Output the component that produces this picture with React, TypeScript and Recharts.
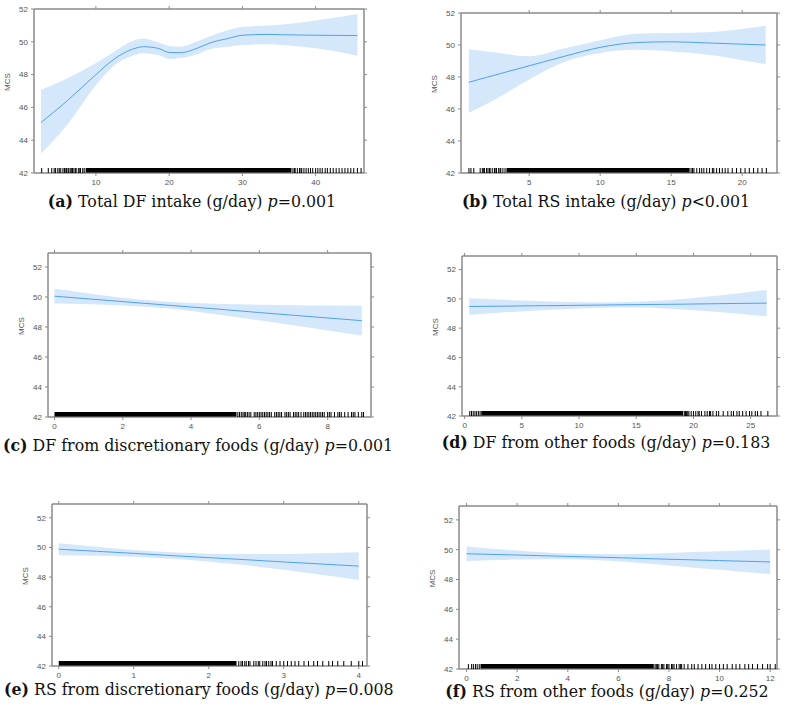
import {
  ComposedChart,
  Area,
  Line,
  Scatter,
  XAxis,
  YAxis,
  ReferenceArea,
} from 'recharts'

// (a) Total DF intake
const aX = [2.5, 6, 10, 12.5, 15, 16.5, 18.5, 20, 21.5, 23.5, 25.5, 28, 30, 33.5, 35.5, 40, 45.7]
const aFit = [45.08, 46.37, 48.0, 48.95, 49.55, 49.7, 49.6, 49.35, 49.33, 49.55, 49.92, 50.2, 50.4, 50.45, 50.43, 50.4, 50.38]
const aLo = [43.19, 44.9, 47.35, 48.55, 49.15, 49.3, 49.2, 48.95, 49.0, 49.2, 49.55, 49.7, 49.8, 49.85, 49.8, 49.6, 49.15]
const aHi = [47.08, 47.75, 48.7, 49.4, 50.05, 50.2, 49.95, 49.75, 49.7, 49.98, 50.33, 50.7, 50.9, 51.0, 51.05, 51.3, 51.7]
const aRugSolid = [8.6, 36.7]
const aRug = [2.6, 3.5, 3.97, 4.3, 4.5, 4.8, 5.0, 5.2, 5.5, 5.7, 5.8, 6.0, 6.2, 6.3, 6.5, 6.7, 6.8, 7.0, 7.2, 7.3, 7.6, 7.8, 7.9, 8.2, 8.4, 36.9, 37.1, 37.2, 37.5, 37.8, 38.0, 38.1, 38.4, 38.7, 39.0, 39.3, 39.6, 40.0, 40.3, 40.6, 40.9, 41.3, 41.6, 42.0, 42.4, 42.8, 43.2, 43.6, 44.0, 44.4, 44.8, 45.2, 45.7, 46.2]
const aXTicks = [10, 20, 30, 40]

// (b) Total RS intake
const bX = [0.75, 2.5, 5, 7.5, 10, 12.5, 15, 17.5, 20, 21.65]
const bFit = [47.67, 48.1, 48.7, 49.3, 49.85, 50.15, 50.2, 50.13, 50.05, 50.0]
const bLo = [45.77, 46.55, 47.85, 48.95, 49.5, 49.7, 49.6, 49.4, 49.05, 48.8]
const bHi = [49.73, 49.55, 49.3, 49.8, 50.3, 50.7, 50.75, 50.8, 51.0, 51.2]
const bRugSolid = [3.4, 16.3]
const bRug = [0.76, 0.9, 1.1, 1.55, 1.7, 1.8, 1.85, 2.0, 2.1, 2.2, 2.25, 2.4, 2.55, 2.6, 2.7, 2.85, 2.95, 3.0, 3.15, 3.3, 16.4, 16.5, 16.6, 16.8, 17.0, 17.15, 17.3, 17.5, 17.7, 17.9, 18.0, 18.2, 18.4, 18.6, 18.8, 19.0, 19.3, 19.6, 19.9, 20.2, 20.5, 20.8, 21.1, 21.4, 21.7]
const bXTicks = [5, 10, 15, 20]

// (c) DF from discretionary foods
const cX = [0, 1, 2, 3, 4, 5, 6, 7, 8, 9]
const cFit = [50.05, 49.87, 49.69, 49.51, 49.33, 49.15, 48.96, 48.78, 48.6, 48.42]
const cLo = [49.56, 49.51, 49.43, 49.29, 49.07, 48.77, 48.44, 48.11, 47.77, 47.43]
const cHi = [50.54, 50.23, 49.95, 49.73, 49.59, 49.53, 49.48, 49.45, 49.43, 49.41]
const cRugSolid = [0, 5.33]
const cRug = [5.37, 5.42, 5.47, 5.52, 5.56, 5.6, 5.65, 5.7, 5.75, 5.85, 5.9, 5.95, 6.0, 6.05, 6.1, 6.15, 6.2, 6.25, 6.3, 6.35, 6.45, 6.5, 6.55, 6.6, 6.65, 6.75, 6.8, 6.85, 6.9, 7.0, 7.05, 7.1, 7.15, 7.22, 7.3, 7.35, 7.4, 7.45, 7.5, 7.55, 7.6, 7.65, 7.7, 7.75, 7.8, 7.85, 7.9, 8.0, 8.05, 8.1, 8.2, 8.3, 8.35, 8.4, 8.5, 8.6, 8.7, 8.75, 8.8, 8.9, 9.0, 9.05]
const cXTicks = [0, 2, 4, 6, 8]

// (d) DF from other foods
const dX = [0.4, 3, 6, 9, 12, 15, 18, 21, 24, 26.4]
const dFit = [49.48, 49.5, 49.53, 49.55, 49.58, 49.61, 49.63, 49.66, 49.69, 49.71]
const dLo = [48.92, 49.05, 49.19, 49.31, 49.4, 49.41, 49.33, 49.18, 48.99, 48.81]
const dHi = [50.04, 49.95, 49.87, 49.79, 49.76, 49.81, 49.93, 50.14, 50.39, 50.61]
const dRugSolid = [1.45, 19.1]
const dRug = [0.45, 0.6, 0.75, 0.9, 1.05, 1.2, 1.35, 19.2, 19.3, 19.4, 19.5, 19.6, 19.8, 20.0, 20.2, 20.4, 20.5, 20.7, 21.0, 21.2, 21.4, 21.5, 21.7, 22.0, 22.2, 22.6, 23.0, 23.3, 23.5, 23.8, 24.0, 24.3, 24.6, 24.9, 25.1, 25.4, 25.6, 25.9, 26.5]
const dXTicks = [0, 5, 10, 15, 20, 25]

// (e) RS from discretionary foods
const eX = [0, 0.5, 1, 1.5, 2, 2.5, 3, 3.5, 4]
const eFit = [49.88, 49.74, 49.6, 49.45, 49.31, 49.17, 49.02, 48.88, 48.74]
const eLo = [49.48, 49.44, 49.37, 49.23, 49.04, 48.79, 48.49, 48.16, 47.81]
const eHi = [50.28, 50.04, 49.83, 49.67, 49.58, 49.55, 49.55, 49.6, 49.67]
const eRugSolid = [0, 2.37]
const eRug = [2.4, 2.43, 2.45, 2.48, 2.5, 2.53, 2.55, 2.6, 2.63, 2.66, 2.68, 2.72, 2.75, 2.77, 2.8, 2.83, 2.85, 2.9, 2.95, 3.0, 3.05, 3.1, 3.15, 3.2, 3.27, 3.33, 3.4, 3.45, 3.52, 3.6, 3.65, 3.72, 3.8, 3.9, 4.0, 4.05]
const eXTicks = [0, 1, 2, 3, 4]

// (f) RS from other foods
const fX = [0, 2, 4, 6, 8, 10, 12]
const fFit = [49.73, 49.64, 49.55, 49.46, 49.36, 49.27, 49.18]
const fLo = [49.24, 49.34, 49.36, 49.22, 48.94, 48.65, 48.35]
const fHi = [50.22, 49.94, 49.74, 49.7, 49.78, 49.89, 50.01]
const fRugSolid = [0.55, 7.4]
const fRug = [0.07, 0.2, 0.27, 0.35, 0.42, 0.5, 7.45, 7.5, 7.55, 7.6, 7.7, 7.75, 7.8, 7.9, 7.95, 8.0, 8.1, 8.15, 8.2, 8.3, 8.4, 8.45, 8.5, 8.6, 8.75, 8.9, 9.0, 9.15, 9.3, 9.45, 9.6, 9.7, 9.85, 10.0, 10.15, 10.3, 10.5, 10.65, 10.8, 11.0, 11.15, 11.3, 11.5, 11.7, 11.9, 12.0, 12.2]
const fXTicks = [0, 2, 4, 6, 8, 10, 12]

const yTicks = [42, 44, 46, 48, 50, 52]

const LINE_COLOR = '#4ea2f0'
const BAND_COLOR = '#d4e7fb'
const FRAME_COLOR = '#8a8a8a'
const RUG_PX = 5

type PanelProps = {
  xs: number[]
  fit: number[]
  lo: number[]
  hi: number[]
  rugSolid: number[]
  rug: number[]
  xTicks: number[]
  xDomain: [number, number]
  yMax: number
  box: { left: number; top: number; right: number; bottom: number }
  tag: string
  title: string
  pText: string
  cap: { cx: number; top: number }
}

function Panel({ xs, fit, lo, hi, rugSolid, rug, xTicks, xDomain, yMax, box, tag, title, pText, cap }: PanelProps) {
  const data = xs.map((x, i) => ({ x, fit: fit[i], band: [lo[i], hi[i]] }))
  const rugData = rug.map((x) => ({ x, y: 42 }))
  const boxW = box.right - box.left
  const boxH = box.bottom - box.top
  const rugH = (RUG_PX * (yMax - 42)) / boxH
  const padL = 30
  const padT = 6
  const padR = 8
  const padB = 22

  return (
    <>
      <div style={{ position: 'absolute', left: box.left - padL, top: box.top - padT }}>
        <ComposedChart
          width={boxW + padL + padR}
          height={boxH + padT + padB}
          margin={{ top: 2, right: 4, left: 0, bottom: 0 }}
          style={{ fontFamily: '"Liberation Sans", Arial, sans-serif' }}
        >
          <XAxis
            xAxisId="b"
            dataKey="x"
            type="number"
            domain={xDomain}
            ticks={xTicks}
            interval={0}
            allowDataOverflow
            height={padB}
            tickSize={3}
            tickMargin={3}
            stroke={FRAME_COLOR}
            tick={{ fontSize: 8, fill: '#555' }}
          />
          <XAxis
            xAxisId="t"
            orientation="top"
            dataKey="x"
            type="number"
            domain={xDomain}
            ticks={xTicks}
            interval={0}
            allowDataOverflow
            height={4}
            tickSize={3}
            stroke={FRAME_COLOR}
            tickFormatter={() => ''}
          />
          <YAxis
            yAxisId="l"
            type="number"
            domain={[42, yMax]}
            ticks={yTicks}
            interval={0}
            allowDataOverflow
            width={padL}
            tickSize={3}
            tickMargin={3}
            stroke={FRAME_COLOR}
            tick={{ fontSize: 8, fill: '#555' }}
            label={{ value: 'MCS', angle: -90, position: 'insideLeft', offset: 3, fontSize: 8, fill: '#555' }}
          />
          <YAxis
            yAxisId="r"
            orientation="right"
            type="number"
            domain={[42, yMax]}
            ticks={yTicks}
            interval={0}
            allowDataOverflow
            width={4}
            tickSize={3}
            stroke={FRAME_COLOR}
            tickFormatter={() => ''}
          />
          <Area
            xAxisId="b"
            yAxisId="l"
            data={data}
            dataKey="band"
            type="monotone"
            stroke="none"
            fill={BAND_COLOR}
            fillOpacity={1}
            isAnimationActive={false}
          />
          <ReferenceArea
            xAxisId="b"
            yAxisId="l"
            x1={xDomain[0]}
            x2={xDomain[1]}
            y1={42}
            y2={yMax}
            fill="none"
            fillOpacity={0}
            stroke={FRAME_COLOR}
            strokeWidth={1}
          />
          <ReferenceArea
            xAxisId="b"
            yAxisId="l"
            x1={rugSolid[0]}
            x2={rugSolid[1]}
            y1={42}
            y2={42 + rugH}
            fill="#000"
            fillOpacity={1}
            stroke="none"
          />
          <Scatter
            xAxisId="b"
            yAxisId="l"
            data={rugData}
            dataKey="y"
            isAnimationActive={false}
            shape={(p: any) => (
              <line x1={p.cx} x2={p.cx} y1={p.cy} y2={p.cy - RUG_PX} stroke="#000" strokeWidth={1} />
            )}
          />
          <Line
            xAxisId="b"
            yAxisId="l"
            data={data}
            dataKey="fit"
            type="monotone"
            stroke={LINE_COLOR}
            strokeWidth={1}
            dot={false}
            isAnimationActive={false}
          />
        </ComposedChart>
      </div>
      <div
        style={{
          position: 'absolute',
          left: cap.cx - 193,
          top: cap.top,
          width: 386,
          textAlign: 'center',
          fontFamily: '"DejaVu Serif", serif',
          fontSize: 15.8,
          lineHeight: '12px',
          color: '#111',
          whiteSpace: 'nowrap',
        }}
      >
        <b>{tag}</b> {title} <i>p</i>
        {pText}
      </div>
    </>
  )
}

export default function App() {
  return (
    <div style={{ position: 'absolute', left: 0, top: 0, width: 785, height: 715, background: '#fff' }}>
      <Panel
        xs={aX} fit={aFit} lo={aLo} hi={aHi} rugSolid={aRugSolid} rug={aRug}
        xTicks={aXTicks} xDomain={[1.55, 46.6]} yMax={52}
        box={{ left: 34, top: 9, right: 364, bottom: 173 }}
        tag="(a)" title="Total DF intake (g/day)" pText="=0.001"
        cap={{ cx: 192, top: 196 }}
      />
      <Panel
        xs={bX} fit={bFit} lo={bLo} hi={bHi} rugSolid={bRugSolid} rug={bRug}
        xTicks={bXTicks} xDomain={[0.2, 22.45]} yMax={52}
        box={{ left: 461, top: 13, right: 777, bottom: 173 }}
        tag="(b)" title="Total RS intake (g/day)" pText="<0.001"
        cap={{ cx: 606, top: 196 }}
      />
      <Panel
        xs={cX} fit={cFit} lo={cLo} hi={cHi} rugSolid={cRugSolid} rug={cRug}
        xTicks={cXTicks} xDomain={[-0.19, 9.27]} yMax={52.93}
        box={{ left: 48, top: 253, right: 371, bottom: 417 }}
        tag="(c)" title="DF from discretionary foods (g/day)" pText="=0.001"
        cap={{ cx: 196, top: 440 }}
      />
      <Panel
        xs={dX} fit={dFit} lo={dLo} hi={dHi} rugSolid={dRugSolid} rug={dRug}
        xTicks={dXTicks} xDomain={[-0.23, 27.3]} yMax={52.93}
        box={{ left: 462, top: 256, right: 777, bottom: 416 }}
        tag="(d)" title="DF from other foods (g/day)" pText="=0.183"
        cap={{ cx: 606, top: 437 }}
      />
      <Panel
        xs={eX} fit={eFit} lo={eLo} hi={eHi} rugSolid={eRugSolid} rug={eRug}
        xTicks={eXTicks} xDomain={[-0.09, 4.11]} yMax={52.93}
        box={{ left: 52, top: 504, right: 367, bottom: 666 }}
        tag="(e)" title="RS from discretionary foods (g/day)" pText="=0.008"
        cap={{ cx: 197, top: 684 }}
      />
      <Panel
        xs={fX} fit={fFit} lo={fLo} hi={fHi} rugSolid={fRugSolid} rug={fRug}
        xTicks={fXTicks} xDomain={[-0.3, 12.27]} yMax={52.93}
        box={{ left: 459, top: 506, right: 777, bottom: 669 }}
        tag="(f)" title="RS from other foods (g/day)" pText="=0.252"
        cap={{ cx: 607, top: 686 }}
      />
    </div>
  )
}
